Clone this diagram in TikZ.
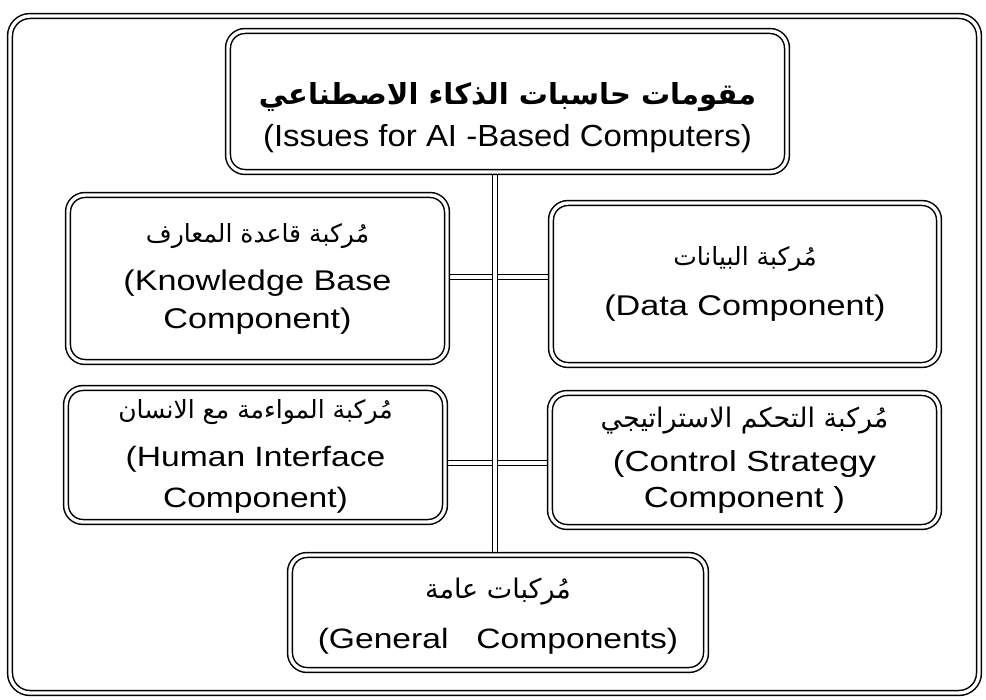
\documentclass[tikz,border=0pt]{standalone}
\usepackage{fontspec}
\setmainfont{Liberation Sans}[FakeStretch=1.2]
\newfontfamily\titlefont{Liberation Sans}[FakeStretch=1.08]
\newfontfamily\arabicfont[Script=Arabic]{DejaVu Sans}
\TeXXeTstate=1
\usetikzlibrary{backgrounds}
\AtBeginDocument{\lineskiplimit=-100pt\relax}
\newcommand{\arf}[1]{\arabicfont\fontsize{#1}{#1}\selectfont}
\newcommand{\tp}[1]{\rule{0pt}{#1pt}}
\newcommand{\bt}[1]{\rule[-#1pt]{0pt}{0pt}}
\tikzset{
  dline/.style={draw=black, double=white, double distance=3.4pt, line width=1.5pt},
  compbox/.style={dline, rounded corners=17pt, rectangle, align=center, inner sep=0pt},
  framebox/.style={dline, rounded corners=20pt, rectangle, inner sep=0pt},
  link/.style={dline}
}
\begin{document}
\begin{tikzpicture}[x=1pt,y=-1pt]
\useasboundingbox (0,0) rectangle (986,700);
\node[framebox, minimum width=969pt, minimum height=677pt] (frame) at (494.5,354.5) {};
\node[compbox, minimum width=559pt, minimum height=141pt,
  font=\titlefont\fontsize{30.5}{33}\selectfont] (top) at (507.5,101.5)
  {\tp{59}{\arf{29}\bfseries\beginR مقومات حاسبات الذكاء الاصطناعي\endR}\\[9pt] (Issues for AI -Based Computers)\bt{10}};
\node[compbox, minimum width=379pt, minimum height=167pt,
  font=\fontsize{28.5}{38}\selectfont] (kb) at (257.5,278.5)
  {\tp{40}{\arf{25}\beginR مُركبة قاعدة المعارف\endR}\\[10pt] (Knowledge Base\\ Component)\bt{26}};
\node[compbox, minimum width=388pt, minimum height=162pt,
  font=\fontsize{28.5}{33}\selectfont] (data) at (745,284)
  {\tp{40}{\arf{25}\beginR مُركبة البيانات\endR}\\[17pt] (Data Component)\bt{27}};
\node[compbox, minimum width=379pt, minimum height=134pt,
  font=\fontsize{28}{41}\selectfont] (human) at (255.5,455)
  {\tp{26}{\arf{25}\beginR مُركبة المواءمة مع الانسان\endR}\\[8pt] (Human Interface\\ Component)\bt{10}};
\node[compbox, minimum width=389pt, minimum height=134pt,
  font=\fontsize{29}{36}\selectfont] (control) at (744.5,460)
  {\tp{26}{\arf{27}\beginR مُركبة التحكم الاستراتيجي\endR}\\[9pt] (Control Strategy\\ Component )\bt{11}};
\node[compbox, minimum width=416pt, minimum height=115pt,
  font=\fontsize{28}{33}\selectfont] (general) at (498,612.5)
  {\tp{40}{\arf{27}\beginR مُركبات عامة\endR}\\[17pt] (General\ \ \ Components)\bt{19}};
\coordinate (tr) at (495,0);
\coordinate (j1) at (495,277);
\coordinate (j2) at (495,463);
\begin{scope}[on background layer]
  \draw[link] (kb.east |- j1) -- (data.west |- j1);
  \draw[link] (human.east |- j2) -- (control.west |- j2);
  \draw[link] (top.south -| tr) -- (general.north -| tr);
\end{scope}
\end{tikzpicture}
\end{document}
